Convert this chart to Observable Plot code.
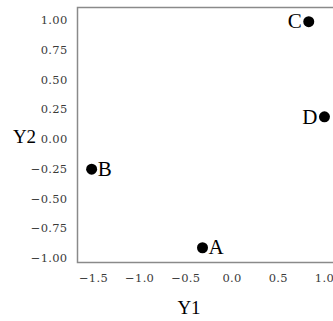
<!DOCTYPE html>
<html>
<head>
<meta charset="utf-8">
<script src="https://cdn.jsdelivr.net/npm/d3@7"></script>
<script src="https://cdn.jsdelivr.net/npm/@observablehq/plot@0.6"></script>
<style>
  html, body { margin: 0; padding: 0; background: #fff; }
  #wrap { width: 333px; height: 321px; overflow: hidden; }
  #wrap svg { overflow: hidden; max-width: none !important; width: 345px; height: 321px; }
  #wrap svg g[aria-label="x-axis tick label"],
  #wrap svg g[aria-label="y-axis tick label"] { font-size: 11.5px; font-family: 'DejaVu Serif', serif; letter-spacing: 0.3px; }
</style>
</head>
<body>
<div id="wrap"></div>
<script>
const labels = ["A", "B", "C", "D"];
const y1 = [-0.32, -1.52, 0.83, 1.00];
const y2 = [-0.91, -0.25, 0.99, 0.19];
const xTicks = [-1.5, -1.0, -0.5, 0.0, 0.5, 1.0];
const yTicks = [-1.00, -0.75, -0.50, -0.25, 0.00, 0.25, 0.50, 0.75, 1.00];
const xDomain = [-1.673, 1.217];
const yDomain = [-1.034, 1.109];
const xTitle = "Y1";
const yTitle = "Y2";

const data = labels.map((l, i) => ({label: l, y1: y1[i], y2: y2[i]}));
const leftSide = ["C", "D"];

const serif = "'Liberation Serif', 'DejaVu Serif', serif";
const tickFont = "'DejaVu Serif', serif";

const chart = Plot.plot({
  width: 345,
  height: 321,
  marginLeft: 77,
  marginRight: 1,
  marginTop: 7,
  marginBottom: 59,
  style: {fontFamily: serif, background: "#fff", color: "#222"},
  x: {domain: xDomain},
  y: {domain: yDomain},
  marks: [
    Plot.frame({stroke: "#8a8a8a", strokeWidth: 1.5}),
    Plot.axisX({ticks: xTicks, tickSize: 0, tickPadding: 11, tickFormat: d3.format(".1f"), label: null, fontSize: 11.5, fontFamily: tickFont, fill: "#3a3a3a"}),
    Plot.axisY({ticks: yTicks, tickSize: 0, tickPadding: 10, tickFormat: d3.format(".2f"), label: null, fontSize: 11.5, fontFamily: tickFont, fill: "#3a3a3a"}),
    Plot.dot(data, {x: "y1", y: "y2", r: 5.5, fill: "#000", stroke: "none"}),
    Plot.text(data.filter(d => !leftSide.includes(d.label)), {x: "y1", y: "y2", text: "label", textAnchor: "start", dx: 6, fontSize: 21, fill: "#000"}),
    Plot.text(data.filter(d => leftSide.includes(d.label)), {x: "y1", y: "y2", text: "label", textAnchor: "end", dx: -7, fontSize: 21, fill: "#000"}),
    Plot.text([yTitle], {frameAnchor: "left", dx: -53, dy: 2, textAnchor: "middle", fontSize: 19, fill: "#000"}),
    Plot.text([xTitle], {frameAnchor: "bottom", dx: -22, dy: 51, textAnchor: "middle", fontSize: 19, fill: "#000"})
  ]
});
document.getElementById("wrap").appendChild(chart);
</script>
</body>
</html>
